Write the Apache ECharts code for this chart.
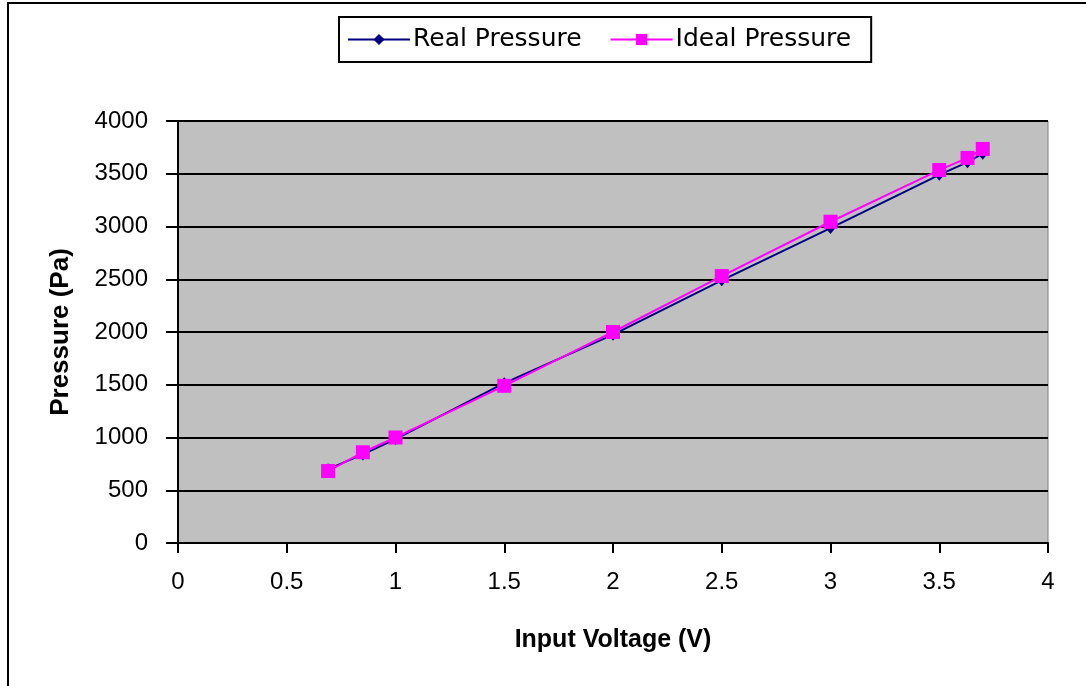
<!DOCTYPE html>
<html>
<head>
<meta charset="utf-8">
<script src="https://cdn.jsdelivr.net/npm/echarts@6/dist/echarts.min.js"></script>
<style>
html, body { margin: 0; padding: 0; background: #fff; }
#chart { width: 1086px; height: 686px; }
</style>
</head>
<body>
<div id="chart"></div>
<script>
// input voltage (V) and pressure (Pa)
var voltages = [0.69, 0.85, 1.0, 1.5, 2.0, 2.5, 3.0, 3.5, 3.63, 3.7];
var realPressure = [700, 840, 985, 1515, 1975, 2490, 2985, 3490, 3610, 3690];
var idealPressure = [682, 860, 1000, 1490, 2000, 2530, 3045, 3535, 3650, 3735];

function pairs(xs, ys) {
	var out = [];
	for (var i = 0; i < xs.length; i++) {
		out.push([xs[i], ys[i]]);
	}
	return out;
}

var chart = echarts.init(document.getElementById('chart'));

var font = 'Liberation Sans, Arial, sans-serif';

var option = {
	animation : false,
	backgroundColor : '#fff',
	graphic : [{
		type : 'rect',
		shape : { x : 8, y : 3, width : 1090, height : 700 },
		style : { fill : 'none', stroke : '#000', lineWidth : 2 }
	}],
	legend : {
		data : [ 'Real Pressure', 'Ideal Pressure' ],
		left : 339,
		top : 17,
		padding : [ 10, 20, 10, 8 ],
		itemGap : 28,
		itemWidth : 62,
		itemHeight : 14,
		borderColor : '#000',
		borderWidth : 2,
		backgroundColor : '#fff',
		textStyle : { fontFamily : 'DejaVu Sans', fontSize : 25, color : '#000', padding : [0, 0, 0, -2] }
	},
	grid : {
		left : 178,
		right : 38,
		top : 121,
		bottom : 143,
		show : true,
		backgroundColor : '#C0C0C0',
		borderColor : '#808080',
		borderWidth : 1
	},
	xAxis : {
		type : 'value',
		min : 0,
		max : 4,
		interval : 0.5,
		name : 'Input Voltage (V)',
		nameLocation : 'middle',
		nameGap : 85,
		nameTextStyle : { fontFamily : font, fontSize : 25, fontWeight : 'bold', color : '#000' },
		axisLine : { lineStyle : { color : '#000', width : 2 } },
		axisTick : { length : 10, lineStyle : { color : '#000', width : 2 } },
		axisLabel : { fontFamily : font, fontSize : 24, color : '#000', margin : 27 },
		splitLine : { show : false }
	},
	yAxis : {
		type : 'value',
		min : 0,
		max : 4000,
		interval : 500,
		name : 'Pressure (Pa)',
		nameLocation : 'middle',
		nameGap : 104,
		nameTextStyle : { fontFamily : font, fontSize : 26, fontWeight : 'bold', color : '#000' },
		axisLine : { show : true, lineStyle : { color : '#000', width : 2 } },
		axisTick : { show : true, length : 12, lineStyle : { color : '#000', width : 2 } },
		axisLabel : {
			fontFamily : font, fontSize : 24, color : '#000', margin : 30,
			formatter : function (v) { return String(v); }
		},
		splitLine : { show : true, lineStyle : { color : '#000', width : 2 } }
	},
	series : [{
		name : 'Real Pressure',
		type : 'line',
		data : pairs(voltages, realPressure),
		symbol : 'diamond',
		symbolSize : [10, 12],
		color : '#000080',
		lineStyle : { color : '#000080', width : 2 },
		itemStyle : { color : '#000080' }
	}, {
		name : 'Ideal Pressure',
		type : 'line',
		data : pairs(voltages, idealPressure),
		symbol : 'rect',
		symbolSize : 14,
		color : '#FF00FF',
		lineStyle : { color : '#FF00FF', width : 2 },
		itemStyle : { color : '#FF00FF' }
	}]
};

chart.setOption(option);
</script>
</body>
</html>
